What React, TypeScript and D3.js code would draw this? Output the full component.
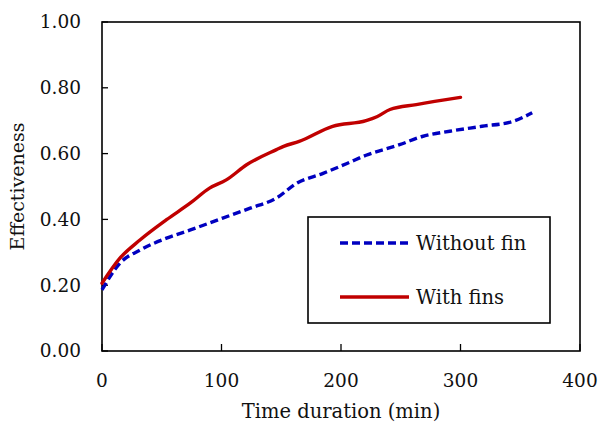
import React from 'react';
import * as d3 from 'd3';

// time (min) vs effectiveness
const finTimes = [0, 15, 32, 54, 74, 90, 104, 121, 146, 152, 165, 193, 221, 230, 241, 263, 300];
const finValues = [0.206, 0.282, 0.338, 0.399, 0.45, 0.495, 0.52, 0.566, 0.612, 0.622, 0.637, 0.683, 0.7, 0.712, 0.734, 0.749, 0.771];

const noFinTimes = [0, 15, 32, 54, 74, 101, 124, 146, 163, 185, 205, 221, 249, 268, 291, 318, 344, 360];
const noFinValues = [0.186, 0.267, 0.307, 0.343, 0.368, 0.404, 0.434, 0.465, 0.51, 0.54, 0.57, 0.595, 0.627, 0.652, 0.668, 0.683, 0.698, 0.724];

const xTicks = [0, 100, 200, 300, 400];
const yTicks = [0, 0.2, 0.4, 0.6, 0.8, 1.0];

const legendItems = [
  { label: 'Without fin', color: '#0000c0', dash: '8,4' },
  { label: 'With fins', color: '#c00000', dash: null },
];

const font = '"DejaVu Serif", serif';

export default function App() {
  const width = 600;
  const height = 423;
  const m = { left: 102, top: 22, right: 580, bottom: 351 };

  const x = d3.scaleLinear().domain([0, 400]).range([m.left, m.right]);
  const y = d3.scaleLinear().domain([0, 1]).range([m.bottom, m.top]);

  const line = d3.line<[number, number]>()
    .curve(d3.curveMonotoneX)
    .x((d) => x(d[0]))
    .y((d) => y(d[1]));

  const fins = finTimes.map((t, i) => [t, finValues[i]] as [number, number]);
  const noFins = noFinTimes.map((t, i) => [t, noFinValues[i]] as [number, number]);

  return (
    <svg width={width} height={height} style={{ position: 'absolute', left: 0, top: 0, background: '#fff' }}
      fontFamily={font}>
      <rect x={m.left} y={m.top} width={m.right - m.left} height={m.bottom - m.top}
        fill="none" stroke="#000" strokeWidth={1.6} />

      {yTicks.map((t) => (
        <g key={t}>
          <line x1={m.left} x2={m.left + 6} y1={y(t)} y2={y(t)} stroke="#000" strokeWidth={1.3} />
          <text x={81} y={y(t)} dy="0.35em" textAnchor="end" fontSize={18.5} fill="#111">
            {t.toFixed(2)}
          </text>
        </g>
      ))}

      {xTicks.map((t) => (
        <g key={t}>
          <line x1={x(t)} x2={x(t)} y1={m.bottom} y2={m.bottom - 7} stroke="#000" strokeWidth={1.3} />
          <text x={x(t)} y={387} textAnchor="middle" fontSize={18.5} fill="#111">{t}</text>
        </g>
      ))}

      <text x={(m.left + m.right) / 2} y={418} textAnchor="middle" fontSize={19.5} fill="#111">
        Time duration (min)
      </text>
      <text transform={`translate(24,${(m.top + m.bottom) / 2}) rotate(-90)`} textAnchor="middle"
        fontSize={19} fill="#111">
        Effectiveness
      </text>

      <path d={line(noFins) ?? ''} fill="none" stroke="#0000c0" strokeWidth={3.4} strokeDasharray="8,4" />
      <path d={line(fins) ?? ''} fill="none" stroke="#c00000" strokeWidth={3.4} strokeLinecap="round" />

      <rect x={308} y={217} width={242} height={106} fill="#fff" stroke="#000" strokeWidth={1.6} />
      {legendItems.map((d, i) => (
        <g key={d.label} transform={`translate(0,${243 + i * 54})`}>
          <line x1={340} x2={409} y1={0} y2={0} stroke={d.color} strokeWidth={3.4}
            strokeDasharray={d.dash ?? undefined} />
          <text x={416} y={0} dy="0.35em" fontSize={19.5} fill="#111">{d.label}</text>
        </g>
      ))}
    </svg>
  );
}
